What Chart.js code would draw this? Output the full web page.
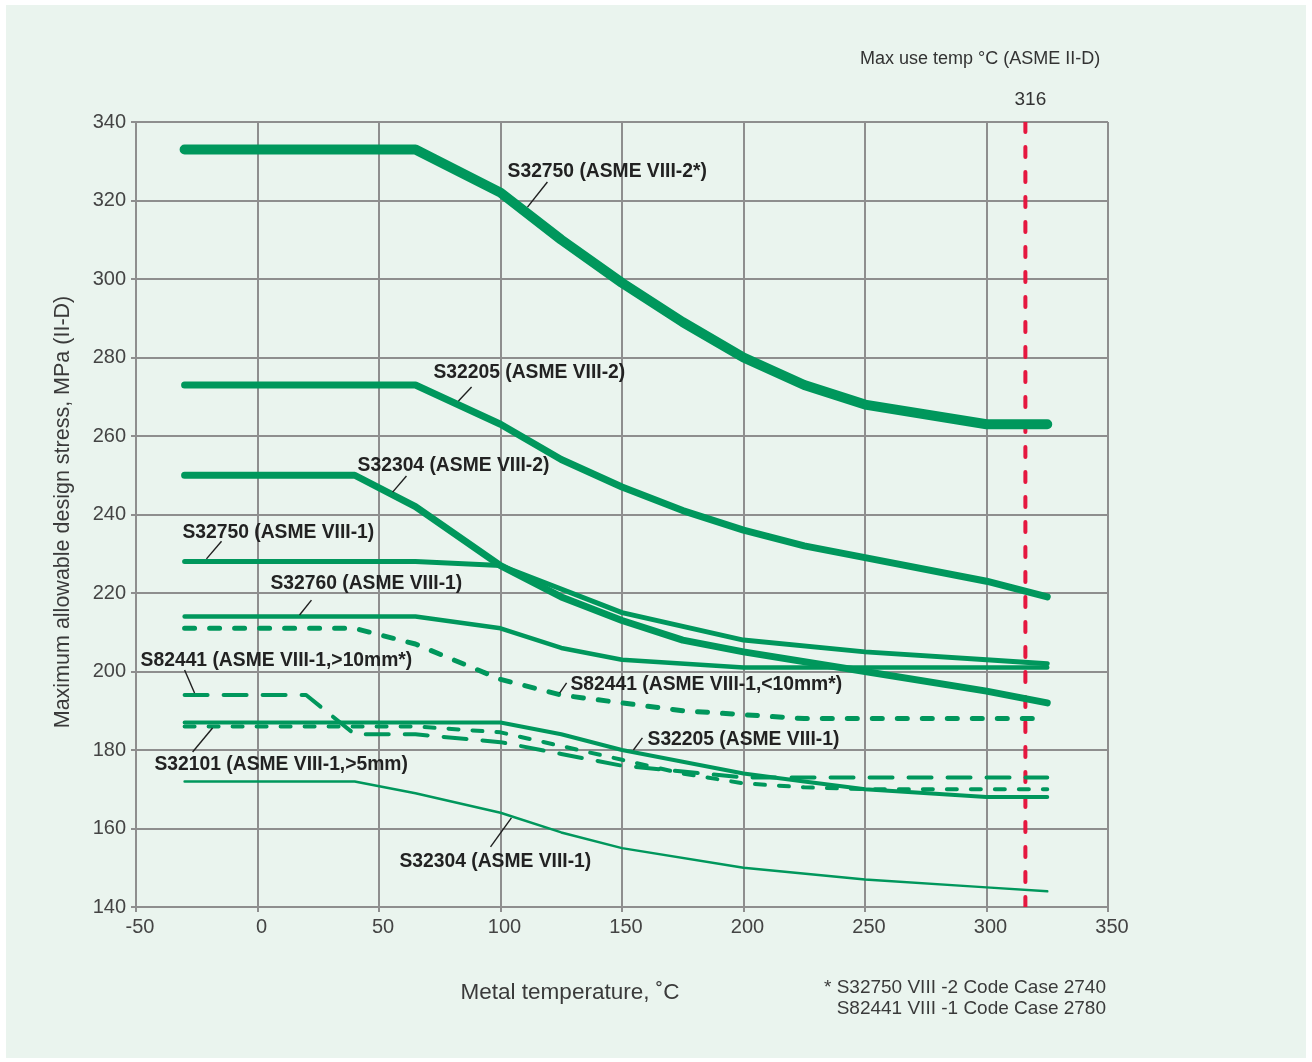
<!DOCTYPE html>
<html>
<head>
<meta charset="utf-8">
<title>Maximum allowable design stress vs metal temperature</title>
<script src="https://cdn.jsdelivr.net/npm/chart.js@4/dist/chart.umd.min.js"></script>
<style>
  html, body { margin: 0; padding: 0; background: #ffffff; }
  canvas { display: block; }
</style>
</head>
<body>
<canvas id="chart" width="1312" height="1062"></canvas>
<script>
// Metal temperature (°C) and allowable design stress (MPa) for each grade / code
const s32750_v2_temp = [-30, 65, 100, 125, 150, 175, 200, 225, 250, 300, 325];
const s32750_v2_mpa  = [333, 333, 322, 310, 299, 289, 280, 273, 268, 263, 263];

const s32205_v2_temp = [-30, 65, 100, 125, 150, 175, 200, 225, 250, 300, 325];
const s32205_v2_mpa  = [273, 273, 263, 254, 247, 241, 236, 232, 229, 223, 219];

const s32304_v2_temp = [-30, 40, 65, 100, 125, 150, 175, 200, 250, 300, 325];
const s32304_v2_mpa  = [250, 250, 242, 227, 219, 213, 208, 205, 200, 195, 192];

const s32750_v1_temp = [-30, 65, 100, 150, 200, 250, 300, 325];
const s32750_v1_mpa  = [228, 228, 227, 215, 208, 205, 203, 202];

const s32760_v1_temp = [-30, 65, 100, 125, 150, 200, 325];
const s32760_v1_mpa  = [214, 214, 211, 206, 203, 201, 201];

const s82441_thin_temp = [-30, 40, 65, 100, 125, 150, 175, 200, 225, 325];
const s82441_thin_mpa  = [211, 211, 207, 198, 194, 192, 190, 189, 188, 188];

const s82441_thick_temp = [-30, 20, 40, 65, 100, 125, 150, 175, 200, 325];
const s82441_thick_mpa  = [194, 194, 184, 184, 182, 179, 176, 174.5, 173, 173];

const s32101_v1_temp = [-30, 65, 100, 125, 150, 175, 200, 225, 250, 325];
const s32101_v1_mpa  = [186, 186, 184.5, 181, 177.5, 174, 171.5, 170.5, 170, 170];

const s32205_v1_temp = [-30, 100, 125, 150, 175, 200, 225, 250, 300, 325];
const s32205_v1_mpa  = [187, 187, 184, 180, 177, 174, 172, 170, 168, 168];

const s32304_v1_temp = [-30, 40, 65, 100, 125, 150, 200, 250, 300, 325];
const s32304_v1_mpa  = [172, 172, 169, 164, 159, 155, 150, 147, 145, 144];

// Maximum use temperature per ASME II-D
const maxUseTemp = 316;
const stressRange = [140, 340];

// Axis ticks
const xTicks = [-50, 0, 50, 100, 150, 200, 250, 300, 350];
const yTicks = [140, 160, 180, 200, 220, 240, 260, 280, 300, 320, 340];

// Series labels: text, text position and leader line, all in data units
const seriesLabels = [
  { text: 'S32750 (ASME VIII-2*)',       at: [102.9, 326.1], leader: [[111.1, 318.3], [119.3, 324.7]] },
  { text: 'S32205 (ASME VIII-2)',        at: [72.4, 274.9],  leader: [[82.7, 268.9], [88.1, 272.5]] },
  { text: 'S32304 (ASME VIII-2)',        at: [41.2, 251.0],  leader: [[55.6, 245.7], [61.3, 249.8]] },
  { text: 'S32750 (ASME VIII-1)',        at: [-30.9, 234.1], leader: [[-21.0, 228.7], [-14.8, 233.2]] },
  { text: 'S32760 (ASME VIII-1)',        at: [5.3, 220.9],   leader: [[17.3, 214.4], [22.2, 218.2]] },
  { text: 'S82441 (ASME VIII-1,>10mm*)', at: [-48.1, 201.3], leader: [[-30.0, 200.4], [-25.9, 194.5]] },
  { text: 'S82441 (ASME VIII-1,<10mm*)', at: [128.8, 195.2], leader: [[124.3, 194.5], [127.2, 197.1]] },
  { text: 'S32205 (ASME VIII-1)',        at: [160.5, 181.4], leader: [[154.7, 180.0], [158.4, 183.1]] },
  { text: 'S32101 (ASME VIII-1,>5mm)',   at: [-42.4, 175.0], leader: [[-26.7, 179.5], [-18.5, 185.6]] },
  { text: 'S32304 (ASME VIII-1)',        at: [58.4, 150.3],  leader: [[95.9, 155.3], [104.5, 162.7]] }
];

const GREEN = '#00975c';
const RED = '#e5173f';
const GRID = '#8e8e8e';
const BG = '#eaf4ee';
const FONT = '"Liberation Sans", Arial, sans-serif';

function pts(xs, ys) { return xs.map((x, i) => ({ x: x, y: ys[i] })); }

function series(label, xs, ys, width, dash) {
  return {
    label: label,
    data: pts(xs, ys),
    borderColor: GREEN,
    borderWidth: width,
    borderDash: dash || [],
    borderCapStyle: 'round',
    borderJoinStyle: 'round',
    pointRadius: 0,
    tension: 0,
    fill: false,
    order: 1
  };
}

const datasets = [
  series('S32750 (ASME VIII-2*)', s32750_v2_temp, s32750_v2_mpa, 10),
  series('S32205 (ASME VIII-2)', s32205_v2_temp, s32205_v2_mpa, 7),
  series('S32304 (ASME VIII-2)', s32304_v2_temp, s32304_v2_mpa, 7),
  series('S32750 (ASME VIII-1)', s32750_v1_temp, s32750_v1_mpa, 5),
  series('S32760 (ASME VIII-1)', s32760_v1_temp, s32760_v1_mpa, 4.5),
  series('S82441 (ASME VIII-1,<10mm*)', s82441_thin_temp, s82441_thin_mpa, 5, [10, 15]),
  series('S82441 (ASME VIII-1,>10mm*)', s82441_thick_temp, s82441_thick_mpa, 4, [23, 16]),
  series('S32101 (ASME VIII-1,>5mm)', s32101_v1_temp, s32101_v1_mpa, 4, [10, 14]),
  series('S32205 (ASME VIII-1)', s32205_v1_temp, s32205_v1_mpa, 4),
  series('S32304 (ASME VIII-1)', s32304_v1_temp, s32304_v1_mpa, 2.5),
  {
    label: 'Max use temp',
    data: pts([maxUseTemp, maxUseTemp], stressRange),
    borderColor: RED,
    borderWidth: 4,
    borderDash: [10, 15],
    borderCapStyle: 'round',
    pointRadius: 0,
    fill: false,
    order: 10
  }
];

// Page background: white frame with a pale mint panel
const backgroundPlugin = {
  id: 'panelBackground',
  beforeDraw(chart) {
    const ctx = chart.ctx;
    ctx.save();
    ctx.fillStyle = '#ffffff';
    ctx.fillRect(0, 0, chart.width, chart.height);
    ctx.fillStyle = BG;
    ctx.fillRect(6, 5, 1300, 1053);
    ctx.restore();
  }
};

// Series labels with leader lines, axis titles and notes
const textPlugin = {
  id: 'chartTexts',
  afterDatasetsDraw(chart) {
    const ctx = chart.ctx;
    const xs = chart.scales.x, ys = chart.scales.y;
    const area = chart.chartArea;
    ctx.save();

    // leader lines
    ctx.strokeStyle = '#1f1f1f';
    ctx.lineWidth = 1.4;
    seriesLabels.forEach(l => {
      ctx.beginPath();
      ctx.moveTo(xs.getPixelForValue(l.leader[0][0]), ys.getPixelForValue(l.leader[0][1]));
      ctx.lineTo(xs.getPixelForValue(l.leader[1][0]), ys.getPixelForValue(l.leader[1][1]));
      ctx.stroke();
    });

    // label texts
    ctx.fillStyle = '#222222';
    ctx.font = 'bold 19.3px ' + FONT;
    ctx.textAlign = 'left';
    ctx.textBaseline = 'alphabetic';
    seriesLabels.forEach(l => {
      ctx.fillText(l.text, xs.getPixelForValue(l.at[0]), ys.getPixelForValue(l.at[1]));
    });

    // max use temperature notes
    ctx.fillStyle = '#333333';
    ctx.font = '18px ' + FONT;
    ctx.textBaseline = 'middle';
    ctx.textAlign = 'left';
    ctx.fillText('Max use temp °C (ASME II-D)', 860, 59);
    ctx.textAlign = 'center';
    ctx.font = '19px ' + FONT;
    ctx.fillText(String(maxUseTemp), xs.getPixelForValue(maxUseTemp) + 5, 100);

    // axis titles
    ctx.fillStyle = '#3a3a3a';
    ctx.font = '22.5px ' + FONT;
    ctx.textAlign = 'center';
    ctx.fillText('Metal temperature, ˚C', 570, 993);

    ctx.save();
    ctx.translate(63, 512);
    ctx.rotate(-Math.PI / 2);
    ctx.font = '21.5px ' + FONT;
    ctx.fillText('Maximum allowable design stress, MPa (II-D)', 0, 0);
    ctx.restore();

    // footnote
    ctx.fillStyle = '#3a3a3a';
    ctx.font = '19px ' + FONT;
    ctx.textAlign = 'right';
    ctx.fillText('* S32750 VIII -2 Code Case 2740', 1106, 988);
    ctx.fillText('S82441 VIII -1 Code Case 2780', 1106, 1009);

    ctx.restore();
  }
};

new Chart(document.getElementById('chart'), {
  type: 'line',
  data: { datasets: datasets },
  options: {
    responsive: false,
    devicePixelRatio: 1,
    animation: false,
    layout: { padding: { top: 122, right: 204, left: 0, bottom: 0 } },
    plugins: {
      legend: { display: false },
      tooltip: { enabled: false }
    },
    scales: {
      x: {
        type: 'linear',
        min: xTicks[0],
        max: xTicks[xTicks.length - 1],
        afterBuildTicks(scale) { scale.ticks = xTicks.map(v => ({ value: v })); },
        afterFit(scale) { scale.height = 155; },
        grid: { color: GRID, lineWidth: 2, tickLength: 5, drawTicks: true },
        border: { color: GRID, width: 2 },
        ticks: {
          color: '#444444',
          font: { family: FONT, size: 20 },
          padding: 3,
          labelOffset: 4,
          maxRotation: 0
        }
      },
      y: {
        type: 'linear',
        min: yTicks[0],
        max: yTicks[yTicks.length - 1],
        afterBuildTicks(scale) { scale.ticks = yTicks.map(v => ({ value: v })); },
        afterFit(scale) { scale.width = 136; },
        grid: { color: GRID, lineWidth: 2, tickLength: 5, drawTicks: true },
        border: { color: GRID, width: 2 },
        ticks: {
          color: '#444444',
          font: { family: FONT, size: 20 },
          padding: 5
        }
      }
    }
  },
  plugins: [backgroundPlugin, textPlugin]
});
</script>
</body>
</html>
